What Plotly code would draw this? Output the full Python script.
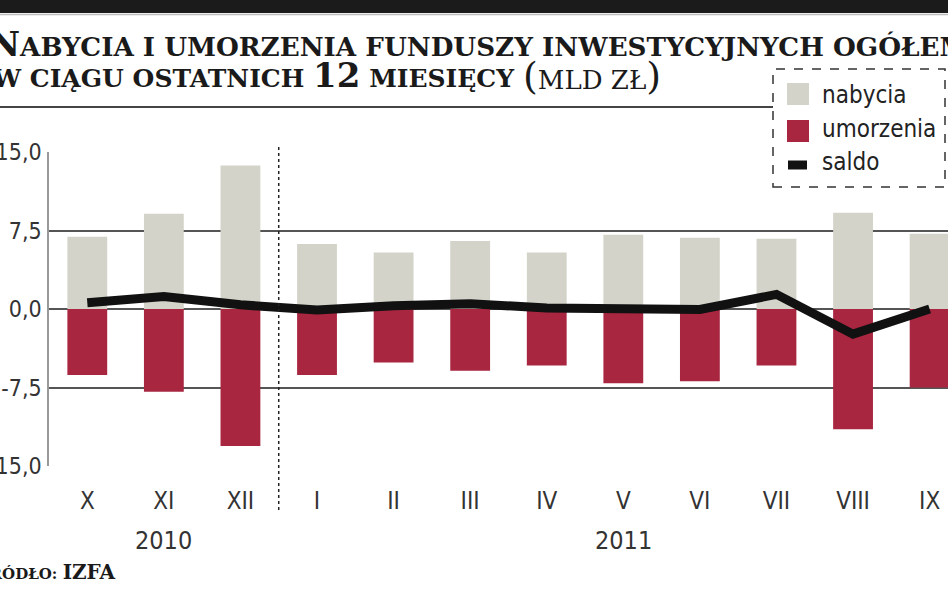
import plotly.graph_objects as go

# ---- data (mld zł) ----
months = ["X", "XI", "XII", "I", "II", "III", "IV", "V", "VI", "VII", "VIII", "IX"]
nabycia = [6.9, 9.1, 13.7, 6.2, 5.4, 6.5, 5.4, 7.1, 6.8, 6.7, 9.2, 7.2]
umorzenia = [-6.3, -7.9, -13.1, -6.3, -5.1, -5.9, -5.4, -7.1, -6.9, -5.4, -11.5, -7.5]
saldo = [0.6, 1.2, 0.4, -0.1, 0.3, 0.5, 0.1, 0.05, -0.05, 1.4, -2.4, 0.0]
years = ["2010", "2011"]
year_center_idx = [1, 7]
y_ticks = [-15, -7.5, 0, 7.5, 15]
y_tick_text = ["-15,0", "-7,5", "0,0", "7,5", "15,0"]

C_NAB = "#d3d3c9"
C_UMO = "#a8263f"
C_SAL = "#111111"
GRID = "#555555"
NARROW = "DejaVu Sans Condensed, DejaVu Sans, sans-serif"
SERIF = "DejaVu Serif, serif"

W_PAGE, H_PAGE = 948, 593
L, R, T, B = 49, 0, 152, 127
PW = W_PAGE - L - R
PH = H_PAGE - T - B


def fx(px):
    return (px - L) / PW


def fy(py):
    return (T + PH - py) / PH


def nfont(size, color="#333333"):
    return dict(family=NARROW, size=size, color=color)


fig = go.Figure()
fig.add_trace(go.Bar(x=months, y=nabycia, name="nabycia", marker_color=C_NAB,
                     marker_line_width=0, width=0.52))
fig.add_trace(go.Bar(x=months, y=umorzenia, name="umorzenia", marker_color=C_UMO,
                     marker_line_width=0, width=0.52))
fig.add_trace(go.Scatter(x=months, y=saldo, name="saldo", mode="lines",
                         line=dict(color=C_SAL, width=9)))

shapes = []
# top black band
shapes.append(dict(type="rect", xref="paper", yref="paper", x0=fx(0), x1=fx(948),
                   y0=fy(0), y1=fy(13), fillcolor="#1b1b1b", line_width=0, layer="above"))
shapes.append(dict(type="line", xref="paper", yref="paper", x0=fx(0), x1=fx(948),
                   y0=fy(14.5), y1=fy(14.5), line=dict(color="#bbbbbb", width=1.5), layer="above"))
# separator under title
shapes.append(dict(type="line", xref="paper", yref="paper", x0=fx(0), x1=fx(773),
                   y0=fy(107), y1=fy(107), line=dict(color="#444444", width=2), layer="above"))
# dotted divider between years
shapes.append(dict(type="line", xref="x", yref="paper", x0=2.5, x1=2.5,
                   y0=fy(510), y1=fy(145), line=dict(color="#222222", width=1.5, dash="dot"),
                   layer="above"))
# legend box
shapes.append(dict(type="rect", xref="paper", yref="paper", x0=fx(773), x1=fx(945),
                   y0=fy(187), y1=fy(69), fillcolor="white",
                   line=dict(color="#333333", width=1.5, dash="dash"), layer="above"))
shapes.append(dict(type="rect", xref="paper", yref="paper", x0=fx(787), x1=fx(809),
                   y0=fy(105), y1=fy(83), fillcolor=C_NAB, line_width=0, layer="above"))
shapes.append(dict(type="rect", xref="paper", yref="paper", x0=fx(787), x1=fx(809),
                   y0=fy(142), y1=fy(120), fillcolor=C_UMO, line_width=0, layer="above"))
shapes.append(dict(type="line", xref="paper", yref="paper", x0=fx(788), x1=fx(807),
                   y0=fy(165), y1=fy(165), line=dict(color=C_SAL, width=9), layer="above"))

annotations = []
leg_items = [("nabycia", 95), ("umorzenia", 129), ("saldo", 162)]
for txt, yy in leg_items:
    annotations.append(dict(text=txt, xref="paper", yref="paper", x=fx(820), y=fy(yy),
                            xanchor="left", yanchor="middle", showarrow=False,
                            font=nfont(24, "#222222")))

for yr, idx in zip(years, year_center_idx):
    annotations.append(dict(text=yr, xref="x", yref="paper", x=idx, y=fy(540),
                            xanchor="center", yanchor="middle", showarrow=False,
                            font=nfont(25)))

big = 'style="font-size:34px"'
annotations.append(dict(
    text=f'<b><span {big}>N</span>ABYCIA I UMORZENIA FUNDUSZY INWESTYCYJNYCH OGÓŁEM</b>',
    xref="paper", yref="paper", x=fx(-13), y=fy(44), xanchor="left", yanchor="middle",
    showarrow=False, font=dict(family=SERIF, size=26.2, color="#1a1a1a")))
annotations.append(dict(
    text=f'<b>W CIĄGU OSTATNICH <span {big}>12</span> MIESIĘCY</b>',
    xref="paper", yref="paper", x=fx(517), y=fy(75), xanchor="right", yanchor="middle",
    showarrow=False, font=dict(family=SERIF, size=25, color="#1a1a1a")))
annotations.append(dict(
    text='<span style="font-size:38px">(</span>MLD ZŁ<span style="font-size:38px">)</span>',
    xref="paper", yref="paper", x=fx(521), y=fy(76), xanchor="left", yanchor="middle",
    showarrow=False, font=dict(family=SERIF, size=26, color="#1a1a1a")))
annotations.append(dict(
    text='<b><span style="font-size:20px">Ź</span>RÓDŁO: <span style="font-size:20px">IZFA</span></b>',
    xref="paper", yref="paper", x=fx(118), y=fy(572), xanchor="right", yanchor="middle",
    showarrow=False, font=dict(family=SERIF, size=15, color="#1a1a1a")))

fig.update_layout(
    width=W_PAGE, height=H_PAGE,
    margin=dict(l=L, r=R, t=T, b=B, pad=0, autoexpand=False),
    paper_bgcolor="white", plot_bgcolor="white",
    barmode="relative", bargap=0.48,
    showlegend=False,
    shapes=shapes, annotations=annotations,
    xaxis=dict(range=[-0.5, 11.24], showgrid=False, zeroline=False, showline=False,
               ticks="", tickfont=nfont(24), automargin=False,
               ticklabelstandoff=18, fixedrange=True),
    yaxis=dict(range=[-15, 15], tickvals=y_ticks, ticktext=y_tick_text,
               showgrid=True, gridcolor=GRID, gridwidth=1.6,
               zeroline=True, zerolinecolor=GRID, zerolinewidth=1.6,
               showline=True, linecolor="#999999", linewidth=1.5, automargin=False,
               ticks="", tickfont=nfont(23),
               ticklabelstandoff=1, fixedrange=True),
)

fig.write_html("out.html", config={"displayModeBar": False})
